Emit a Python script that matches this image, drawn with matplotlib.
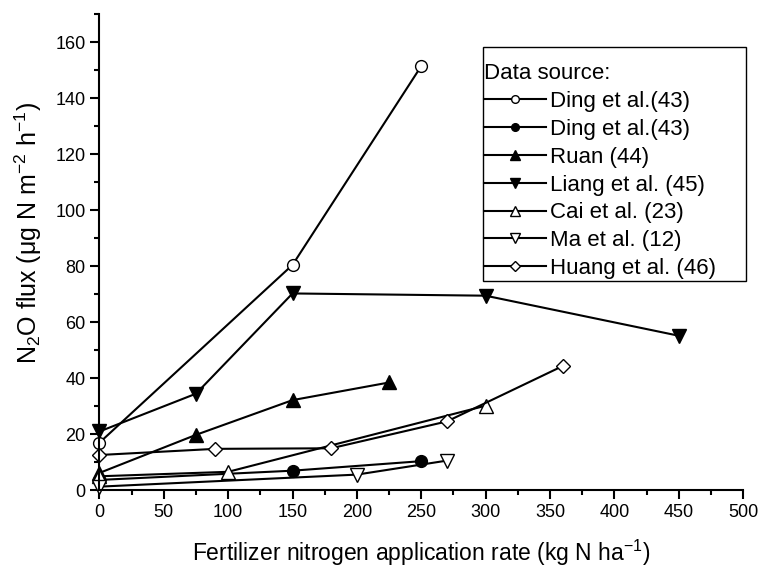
import matplotlib
matplotlib.use('Agg')
import matplotlib.pyplot as plt
from matplotlib.ticker import MultipleLocator
from matplotlib.patches import Rectangle

plt.rcParams['font.family'] = ['Liberation Sans', 'DejaVu Sans']
plt.rcParams['mathtext.fontset'] = 'custom'
plt.rcParams['mathtext.rm'] = 'Liberation Sans'
plt.rcParams['mathtext.it'] = 'Liberation Sans:italic'
plt.rcParams['mathtext.bf'] = 'Liberation Sans:bold'

# data
ding_open_x = [0, 150, 250]
ding_open_y = [17, 80.5, 151.5]

ding_fill_x = [0, 150, 250]
ding_fill_y = [3.7, 7.0, 10.4]

ruan_x = [0, 75, 150, 225]
ruan_y = [6.2, 19.8, 32.2, 38.5]

liang_x = [0, 75, 150, 300, 450]
liang_y = [21, 34.5, 70.3, 69.5, 55.2]

cai_x = [0, 100, 300]
cai_y = [5.0, 6.6, 30.2]

ma_x = [0, 200, 270]
ma_y = [1.3, 5.6, 10.6]

huang_x = [0, 90, 180, 270, 360]
huang_y = [12.6, 14.8, 15.0, 24.6, 44.4]

series = [
    (ding_open_x, ding_open_y, 'o', 'white', 8.5, 'Ding et al.(43)'),
    (ding_fill_x, ding_fill_y, 'o', 'black', 8.5, 'Ding et al.(43)'),
    (ruan_x, ruan_y, '^', 'black', 10, 'Ruan (44)'),
    (liang_x, liang_y, 'v', 'black', 10, 'Liang et al. (45)'),
    (cai_x, cai_y, '^', 'white', 10, 'Cai et al. (23)'),
    (ma_x, ma_y, 'v', 'white', 10, 'Ma et al. (12)'),
    (huang_x, huang_y, 'D', 'white', 7.5, 'Huang et al. (46)'),
]

fig = plt.figure(figsize=(7.61, 5.67), dpi=100)
ax = fig.add_axes([0.1307, 0.1353, 0.8457, 0.8395])

for xs, ys, mk, fc, ms, lab in series:
    ax.plot(xs, ys, color='black', linewidth=1.5, marker=mk, markersize=ms,
            markerfacecolor=fc, markeredgecolor='black', markeredgewidth=1.0,
            label=lab, clip_on=False)

ax.set_xlim(0, 500)
ax.set_ylim(0, 170)
ax.xaxis.set_major_locator(MultipleLocator(50))
ax.xaxis.set_minor_locator(MultipleLocator(25))
ax.yaxis.set_major_locator(MultipleLocator(20))
ax.yaxis.set_minor_locator(MultipleLocator(10))
ax.set_yticks([0, 20, 40, 60, 80, 100, 120, 140, 160])

ax.spines['top'].set_visible(False)
ax.spines['right'].set_visible(False)
ax.spines['left'].set_linewidth(1.5)
ax.spines['bottom'].set_linewidth(1.5)
ax.tick_params(which='major', direction='out', length=6.5, width=1.5, labelsize=13)
ax.tick_params(which='minor', direction='out', length=3.3, width=1.5)

ax.set_xlabel('Fertilizer nitrogen application rate (kg N ha$^{-1}$)', fontsize=16.5, labelpad=12)
ax.set_ylabel('N$_2$O flux (\u03bcg N m$^{-2}$ h$^{-1}$)', fontsize=18)
ax.yaxis.set_label_coords(-0.086, 0.54)

# legend box (Origin style: content hugs the left edge, extra room on top)
ax.add_patch(Rectangle((0.5964, 0.4400), 0.4083, 0.4907, transform=ax.transAxes,
                       facecolor='white', edgecolor='black', linewidth=1.0,
                       clip_on=False, zorder=4))

leg = ax.legend(loc='upper left', bbox_to_anchor=(0.5964, 0.899), fontsize=16,
                title='Data source:', title_fontsize=16, alignment='left',
                frameon=False, borderpad=0.05, borderaxespad=0, handlelength=2.75,
                handletextpad=0.2, labelspacing=0.305, markerscale=0.65)
leg.set_zorder(5)

fig.savefig('out.png', dpi=100)
